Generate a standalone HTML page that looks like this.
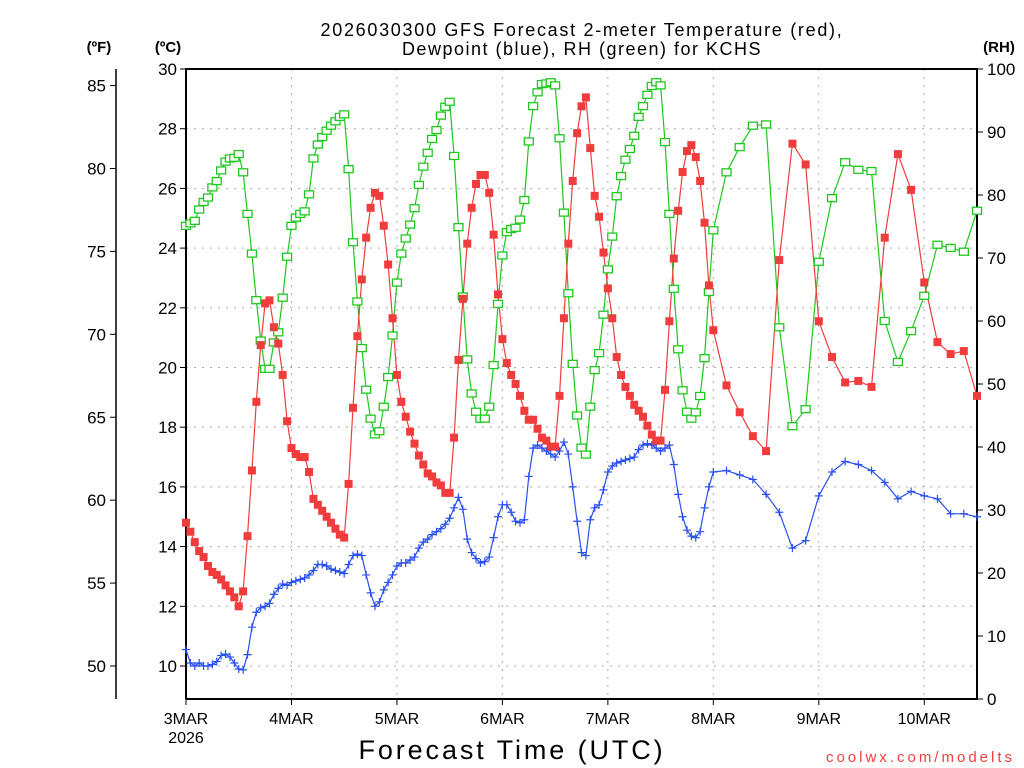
<!DOCTYPE html>
<html><head><meta charset="utf-8"><style>
html,body{margin:0;padding:0;background:#fff}
svg{display:block}
text{font-family:"Liberation Sans",sans-serif}
</style></head><body>
<svg id="chart" width="1024" height="768" viewBox="0 0 1024 768">
<g id="grid"></g>
<g id="axes"></g>
<text x="582" y="36" font-size="18" text-anchor="middle" letter-spacing="1.7">2026030300 GFS Forecast 2-meter Temperature (red),</text>
<text x="582" y="55" font-size="18" text-anchor="middle" letter-spacing="1.5">Dewpoint (blue), RH (green) for KCHS</text>
<text x="99" y="52" font-size="15" font-weight="bold" text-anchor="middle">(ºF)</text>
<text x="168" y="52" font-size="15" font-weight="bold" text-anchor="middle">(ºC)</text>
<text x="999" y="52" font-size="15" font-weight="bold" text-anchor="middle">(RH)</text>
<text x="186" y="743" font-size="16" text-anchor="middle">2026</text>
<text x="512" y="759" font-size="27" text-anchor="middle" letter-spacing="2.9">Forecast Time (UTC)</text>
<text x="1015" y="762" font-size="15" fill="#f04040" text-anchor="end" letter-spacing="3">coolwx.com/modelts</text>
<g id="series"></g>
</svg>
<script>
const hoursHourly = Array.from({length:121},(_, i)=>i);
const hours3 = [123,126,129,132,135,138,141,144,147,150,153,156,159,162,165,168,171,174,177,180];
const hours = hoursHourly.concat(hours3);
const dayLabels = ["3MAR","4MAR","5MAR","6MAR","7MAR","8MAR","9MAR","10MAR"];
const celsiusTicks = [10,12,14,16,18,20,22,24,26,28,30];
const fahrenheitTicks = [50,55,60,65,70,75,80,85];
const rhTicks = [0,10,20,30,40,50,60,70,80,90,100];
const temp = [14.8,14.5,14.15,13.85,13.65,13.35,13.15,13.05,12.9,12.7,12.5,12.3,12.0,12.5,14.35,16.55,18.85,20.75,22.15,22.25,21.35,20.8,19.75,18.2,
17.3,17.1,17.0,17.0,16.5,15.6,15.4,15.2,15.0,14.8,14.6,14.4,14.3,16.1,18.65,21.05,22.95,24.35,25.35,25.85,25.75,24.75,23.45,21.65,
19.75,18.85,18.35,17.85,17.45,17.05,16.75,16.45,16.35,16.15,16.05,15.8,15.8,17.65,20.25,22.3,24.15,25.35,26.15,26.45,26.45,25.85,24.45,22.45,
20.95,20.15,19.75,19.45,19.05,18.55,18.25,18.25,17.95,17.65,17.55,17.35,17.35,19.05,21.65,24.15,26.25,27.85,28.75,29.05,27.35,25.75,25.05,23.85,
22.65,21.65,20.35,19.75,19.35,19.05,18.75,18.55,18.35,18.05,17.75,17.55,17.55,19.25,21.55,23.65,25.25,26.55,27.25,27.45,27.05,26.25,24.85,22.75,
21.25,
19.4,18.5,17.7,17.2,23.6,27.5,26.8,21.55,20.35,19.5,19.55,19.35,24.35,27.15,25.95,22.85,20.85,20.45,20.55,19.05];
const dewpoint = [10.55,10.1,10.0,10.1,10.0,10.0,10.05,10.15,10.35,10.4,10.3,10.1,9.9,9.87,10.38,11.3,11.8,11.95,12.0,12.1,12.4,12.6,12.75,12.7,
12.8,12.85,12.9,12.95,13.05,13.2,13.4,13.4,13.35,13.25,13.2,13.15,13.1,13.4,13.7,13.75,13.7,13.05,12.45,12.0,12.15,12.55,12.8,13.05,
13.35,13.45,13.45,13.55,13.65,13.95,14.15,14.25,14.4,14.5,14.6,14.75,14.95,15.3,15.65,15.25,14.25,13.8,13.6,13.45,13.5,13.65,14.3,15.0,
15.4,15.4,15.15,14.85,14.8,14.9,16.35,17.3,17.4,17.3,17.2,17.1,17.0,17.2,17.5,17.1,16.0,14.85,13.8,13.7,14.9,15.3,15.4,15.9,
16.5,16.7,16.8,16.85,16.9,16.95,17.0,17.25,17.4,17.45,17.4,17.3,17.2,17.3,17.4,16.75,15.75,15.0,14.55,14.35,14.3,14.5,15.3,16.0,
16.5,
16.55,16.4,16.25,15.75,15.15,13.95,14.2,15.7,16.5,16.85,16.75,16.55,16.15,15.6,15.85,15.7,15.6,15.1,15.1,15.0];
const rh = [75.1,75.5,75.9,77.7,78.9,79.6,81.2,82.2,83.9,85.3,85.8,85.9,86.5,83.6,77.0,70.7,63.3,56.9,52.4,52.4,56.6,58.2,63.7,70.2,
75.1,76.4,77.0,77.4,80.1,85.8,88.0,89.2,90.2,91.0,91.7,92.4,92.8,84.1,72.5,63.1,55.7,49.1,44.5,42.0,42.5,46.4,51.1,57.7,
66.1,70.7,73.1,75.3,77.9,81.6,84.5,86.7,88.9,90.3,92.6,94.0,94.8,86.2,74.9,63.9,53.9,48.5,45.6,44.5,44.5,46.4,53.0,62.7,
70.4,74.1,74.6,74.8,76.1,79.2,88.5,94.1,96.3,97.6,97.7,97.9,97.4,89.0,77.2,64.4,53.2,45.0,39.9,38.8,46.4,52.2,54.9,61.0,
68.2,73.4,79.8,83.0,85.6,87.3,89.4,92.4,94.1,95.9,97.3,97.9,97.4,88.4,77.0,65.1,55.5,49.0,45.6,44.5,45.5,48.1,54.1,64.6,
74.4,
83.6,87.6,91.0,91.2,59.0,43.3,46.0,69.4,79.5,85.2,84.0,83.8,60.0,53.5,58.4,64.0,72.1,71.6,71.0,77.5];

const X0=186, X1=977, Y0=69, Y1=699, HMAX=180;
function xOf(h){return X0 + h*(X1-X0)/HMAX;}
function yC(c){return Y0 + (30-c)*29.85;}
function yRH(r){return Y0 + (100-r)*(Y1-Y0)/100;}
const NS="http://www.w3.org/2000/svg";
function mk(tag, attrs, parent){const e=document.createElementNS(NS,tag);for(const k in attrs)e.setAttribute(k,attrs[k]);parent.appendChild(e);return e;}
const grid=document.getElementById('grid'), axes=document.getElementById('axes'), series=document.getElementById('series');

celsiusTicks.forEach(c=>{
  const y=yC(c);
  if(c<30){const l=mk('line',{x1:X0,x2:X1,y1:y,y2:y,stroke:'#aaa','stroke-width':1,'stroke-dasharray':'2,6'},grid);
  
  }
  const t=mk('line',{x1:X0-6,x2:X0,y1:y,y2:y,stroke:'#000'},axes);
  
  
  const tx=mk('text',{x:X0-9,y:y+6,'font-size':17,'text-anchor':'end'},axes);tx.textContent=c;
  
  
});
fahrenheitTicks.forEach(f=>{
  const y=yC((f-32)/1.8);
  const t=mk('line',{x1:110,x2:116,y1:y,y2:y,stroke:'#000'},axes);
  
  
  const tx=mk('text',{x:106,y:y+6,'font-size':17,'text-anchor':'end'},axes);tx.textContent=f;
  
  
});
rhTicks.forEach(r=>{
  const y=yRH(r);
  const t=mk('line',{x1:X1,x2:X1+6,y1:y,y2:y,stroke:'#000'},axes);
  
  
  const tx=mk('text',{x:X1+10,y:y+6,'font-size':17,'text-anchor':'start'},axes);tx.textContent=r;
  
  
});
dayLabels.forEach((d,i)=>{
  const x=xOf(i*24);
  if(i>0){const l=mk('line',{x1:x,x2:x,y1:Y0,y2:Y1,stroke:'#aaa','stroke-width':1,'stroke-dasharray':'2,6'},grid);
  
  }
  const t=mk('line',{x1:x,x2:x,y1:Y1,y2:Y1+6,stroke:'#000'},axes);
  
  
  const tx=mk('text',{x:x,y:724,'font-size':16,'text-anchor':'middle'},axes);tx.textContent=d;
  
  
});
const fr=mk('path',{d:`M${X0},${Y1}V${Y0}H${X1}V${Y1}H${X0}`,fill:'none',stroke:'#000','stroke-width':2},axes);


const fa=mk('line',{x1:116,x2:116,y1:Y0,y2:Y1,stroke:'#000','stroke-width':1.5},axes);



function drawLine(vals, yf, color, name){
  const d=vals.map((v,i)=>(i?'L':'M')+xOf(hours[i]).toFixed(1)+','+yf(v).toFixed(1)).join('');
  const p=mk('path',{d:d,fill:'none',stroke:color,'stroke-width':1.2},series);
  
  
}
drawLine(rh,yRH,'#1ec81e','rh-line');
drawLine(dewpoint,yC,'#2850f0','dewpoint-line');
drawLine(temp,yC,'#f03c3c','temperature-line');

rh.forEach((v,i)=>{
  const m=mk('rect',{x:xOf(hours[i])-4.5,y:yRH(v)-3.5,width:9,height:7,fill:'#fff',stroke:'#1ec81e','stroke-width':1.3},series);
  
  
});
dewpoint.forEach((v,i)=>{
  const x=xOf(hours[i]), y=yC(v);
  const m=mk('path',{d:`M${x-4},${y}H${x+4}M${x},${y-4}V${y+4}`,stroke:'#2850f0','stroke-width':1.2,fill:'none'},series);
  
  
});
temp.forEach((v,i)=>{
  const m=mk('rect',{x:xOf(hours[i])-4,y:yC(v)-4,width:8,height:8,fill:'#f03c3c'},series);
  
  
});
</script>
</body></html>
